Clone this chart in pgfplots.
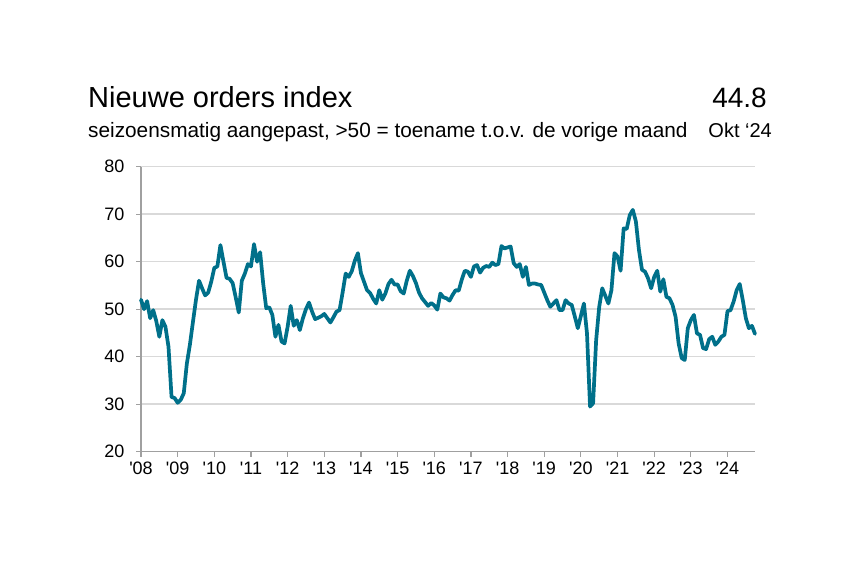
\documentclass[border=0pt]{standalone}
\usepackage{pgfplots}
\pgfplotsset{compat=1.18}
\usepackage{pgfplotstable}
\usepackage{fontspec}
\setmainfont{Liberation Sans}[Ligatures=TeXOff]
\definecolor{lineteal}{RGB}{0,112,138}
\definecolor{gridgray}{RGB}{217,217,217}
\definecolor{axisgray}{RGB}{160,160,160}

\pgfplotstableread{
v
52.0
50.0
51.7
48.1
49.8
47.5
44.2
47.7
46.3
42.1
31.5
31.3
30.3
30.9
32.3
38.5
42.5
47.3
52.0
56.0
54.4
52.9
53.5
55.8
58.7
59.0
63.5
60.0
56.6
56.4
55.5
52.5
49.3
56.0
57.5
59.5
59.0
63.7
60.0
62.0
55.4
50.2
50.4
48.8
44.2
46.7
43.2
42.8
46.3
50.7
46.5
47.7
45.6
48.1
50.0
51.4
49.5
47.9
48.2
48.5
49.0
48.1
47.2
48.3
49.5
49.8
53.5
57.5
56.8
58.0
60.2
61.8
57.6
55.8
54.0
53.4
52.2
51.2
54.0
52.0
53.3
55.3
56.2
55.2
55.2
53.8
53.3
56.0
58.1
57.0
55.5
53.5
52.3
51.5
50.7
51.3
50.8
49.9
53.3
52.5
52.3
51.8
53.0
54.0
53.9
56.2
58.1
57.9
56.8
59.0
59.3
57.7
58.7
59.1
58.9
59.8
59.3
59.5
63.3
62.8
63.0
63.2
59.7
58.9
59.5
56.8
58.9
55.1
55.4
55.4
55.2
55.1
53.5
51.9
50.5
51.2
51.9
49.8
49.8
51.9
51.2
50.9
48.5
46.0
48.6
51.2
44.9
29.5
30.2
43.5
50.5
54.4
52.8
51.2
54.0
61.8
61.1
58.1
67.0
66.9
69.8
70.9
68.5
62.5
58.3
57.9
56.5
54.4
56.8
58.1
53.7
56.3
52.6
52.3
50.9
48.4
42.8
39.7
39.3
46.0
47.7
48.8
44.9
44.6
41.8
41.6
43.7
44.2
42.5
43.2
44.2
44.6
49.6
49.8
51.6
54.0
55.3
51.9
48.1
46.0
46.5
44.8
}\ordersdata

\begin{document}
\begin{tikzpicture}
\path[use as bounding box] (0pt,0pt) rectangle (868pt,570pt);
\node[anchor=base west, inner sep=0pt, font=\fontsize{29}{29}\selectfont] at (88pt,462pt) {Nieuwe orders index};
\node[anchor=base west, inner sep=0pt, font=\fontsize{20.8}{20.8}\selectfont] at (88pt,432pt) {seizoensmatig aangepast, >50 = toename t.o.v. de vorige maand};
\node[anchor=base east, inner sep=0pt, font=\fontsize{28}{28}\selectfont] at (767pt,462pt) {44.8};
\node[anchor=base east, inner sep=0pt, font=\fontsize{20}{20}\selectfont] at (772pt,432pt) {Okt ‘24};
\begin{axis}[
  at={(141pt,118.3pt)}, anchor=south west,
  scale only axis, width=614pt, height=285pt,
  xmin=0, xmax=201, ymin=20, ymax=80,
  axis x line*=bottom, axis y line*=left,
  axis line style={draw=axisgray, line width=1.2pt, -},
  xtick={0,12,...,192},
  xticklabels={'08,'09,'10,'11,'12,'13,'14,'15,'16,'17,'18,'19,'20,'21,'22,'23,'24},
  ytick={20,30,...,80},
  /pgf/number format/assume math mode=true,
  tick align=outside, major tick length=5pt,
  tick style={draw=axisgray, line width=1.2pt},
  ymajorgrids, grid style={draw=gridgray, line width=1.4pt},
  tick label style={font=\fontsize{18}{18}\selectfont, text=black},
  yticklabel style={xshift=-8pt},
  xticklabel style={yshift=-2pt},
  clip=false,
]
\addplot[lineteal, line width=3.7pt, line join=round, line cap=round] table[x expr=\coordindex, y=v] {\ordersdata};
\end{axis}
\end{tikzpicture}
\end{document}
